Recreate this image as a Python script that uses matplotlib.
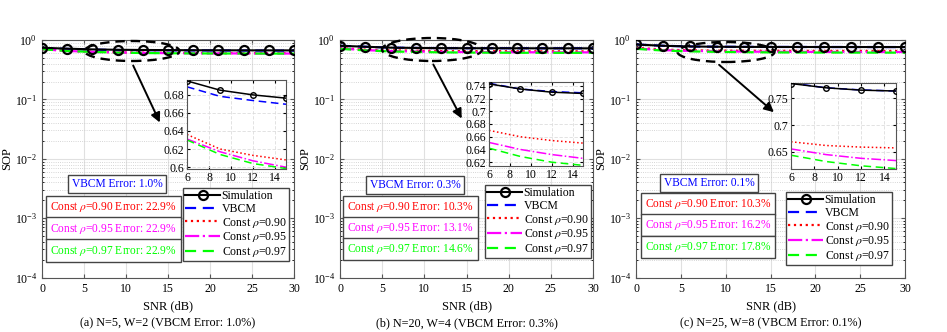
import matplotlib
matplotlib.use("Agg")
import matplotlib.pyplot as plt
from matplotlib.patches import Ellipse, FancyArrowPatch
from matplotlib.ticker import NullFormatter, LogLocator, FuncFormatter

plt.rcParams['font.family'] = ['Liberation Serif', 'DejaVu Serif']
plt.rcParams['mathtext.fontset'] = 'stix'

W, H = 947, 332

snr = [0, 3, 6, 9, 12, 15, 18, 21, 24, 27, 30]

# panel (a) N=5, W=2
sim_a = [0.74, 0.715, 0.695, 0.6848, 0.6796, 0.676, 0.673, 0.671, 0.670, 0.669, 0.668]
vbcm_a = [0.735, 0.708, 0.6885, 0.678, 0.6734, 0.6693, 0.667, 0.665, 0.664, 0.663, 0.662]
c90_a = [0.70, 0.66, 0.636, 0.620, 0.613, 0.608, 0.605, 0.603, 0.602, 0.601, 0.600]
c95_a = [0.70, 0.655, 0.631, 0.617, 0.607, 0.600, 0.597, 0.595, 0.594, 0.593, 0.592]
c97_a = [0.70, 0.653, 0.630, 0.614, 0.604, 0.5985, 0.595, 0.593, 0.592, 0.591, 0.590]

# panel (b) N=20, W=4
sim_b = [0.80, 0.77, 0.743, 0.735, 0.730, 0.728, 0.727, 0.726, 0.725, 0.725, 0.724]
vbcm_b = [0.80, 0.77, 0.744, 0.735, 0.731, 0.729, 0.728, 0.727, 0.726, 0.726, 0.725]
c90_b = [0.73, 0.69, 0.670, 0.660, 0.654, 0.650, 0.648, 0.647, 0.646, 0.645, 0.645]
c95_b = [0.72, 0.675, 0.651, 0.640, 0.632, 0.626, 0.624, 0.622, 0.621, 0.620, 0.620]
c97_b = [0.71, 0.668, 0.642, 0.629, 0.620, 0.615, 0.612, 0.610, 0.609, 0.608, 0.608]

# panel (c) N=25, W=8
sim_c = [0.84, 0.80, 0.778, 0.770, 0.7656, 0.764, 0.763, 0.762, 0.762, 0.761, 0.761]
vbcm_c = [0.84, 0.80, 0.779, 0.770, 0.766, 0.764, 0.763, 0.762, 0.762, 0.761, 0.761]
c90_c = [0.74, 0.69, 0.669, 0.662, 0.659, 0.6575, 0.656, 0.655, 0.655, 0.654, 0.654]
c95_c = [0.72, 0.675, 0.6556, 0.645, 0.638, 0.6338, 0.631, 0.630, 0.629, 0.628, 0.628]
c97_c = [0.71, 0.665, 0.6438, 0.632, 0.624, 0.6188, 0.616, 0.615, 0.614, 0.613, 0.613]

series_names = ['Simulation', 'VBCM', r'Const $\rho$=0.90', r'Const $\rho$=0.95', r'Const $\rho$=0.97']
colors = ['black', '#0000ff', '#ff0000', '#ff00ff', '#00ff00']
styles = ['-', (0, (5, 3)), ':', '-.', (0, (5, 3))]

captions = ['(a) N=5, W=2 (VBCM Error: 1.0%)',
            '(b) N=20, W=4 (VBCM Error: 0.3%)',
            '(c) N=25, W=8 (VBCM Error: 0.1%)']
vbcm_err = ['1.0%', '0.3%', '0.1%']
const_err = [['22.9%', '22.9%', '22.9%'],
             ['10.3%', '13.1%', '14.6%'],
             ['10.3%', '16.2%', '17.8%']]
inset_ylim = [(0.598, 0.696), (0.614, 0.746), (0.618, 0.779)]
inset_yticks = [[0.6, 0.62, 0.64, 0.66, 0.68],
                [0.62, 0.64, 0.66, 0.68, 0.7, 0.72, 0.74],
                [0.65, 0.7, 0.75]]

data = [[sim_a, vbcm_a, c90_a, c95_a, c97_a],
        [sim_b, vbcm_b, c90_b, c95_b, c97_b],
        [sim_c, vbcm_c, c90_c, c95_c, c97_c]]


def fx(px):
    return px / W


def fy(py):
    return 1 - py / H


# layout in pixels
ax_x = [(42, 294), (340, 593), (636, 905)]
ax_top, ax_bot = 40, 277.7
inset_px = [(187, 286, 80, 169), (489, 583, 82, 166), (791, 896, 83, 169)]
legend_px = [(289, 188), (591, 185), (892, 192)]
vbcm_box_px = [(117, 184), (415, 185), (709, 183)]
const_box_px = [(113.5, [207.5, 228.5, 250.5]), (410.5, [207.5, 228, 249]), (708, [204, 225, 247])]
ell_px = [(132, 51, 95, 20), (432, 49.5, 100, 23), (726, 52, 97, 20)]
arrow_px = [((132, 63), (161, 125)), ((432, 62), (463, 121)), ((717, 63), (776, 114))]

fig = plt.figure(figsize=(W / 100, H / 100), dpi=100)

for i in range(3):
    l, r = ax_x[i]
    ax = fig.add_axes([fx(l), fy(ax_bot), (r - l) / W, (ax_bot - ax_top) / H])
    lines = []
    for k in range(5):
        if k == 0:
            ln, = ax.plot(snr, data[i][k], color=colors[k], linestyle=styles[k], lw=1.5,
                          marker='o', ms=6.5, mfc='none', mew=1.6, zorder=5)
        else:
            ln, = ax.plot(snr, data[i][k], color=colors[k], linestyle=styles[k], lw=1.6)
        lines.append(ln)
    ax.set_yscale('log')
    ax.set_ylim(1e-4, 1)
    ax.set_xlim(0, 30)
    ax.set_xticks([0, 5, 10, 15, 20, 25, 30])
    ax.yaxis.set_major_locator(LogLocator(base=10, numticks=10))
    ax.yaxis.set_minor_locator(LogLocator(base=10, subs=range(2, 10), numticks=100))
    ax.yaxis.set_minor_formatter(NullFormatter())
    ax.grid(True, which='major', color='#e0e0e0', lw=0.8)
    ax.grid(True, which='minor', axis='y', color='#c8c8c8', lw=0.6, linestyle=':')
    ax.tick_params(labelsize=8.5, direction='in', length=3, color='#555555', top=True, right=True)
    ax.tick_params(which='minor', direction='in', length=1.5, top=True, right=True)
    for s in ax.spines.values():
        s.set_color('#555555')
    ax.set_xlabel('SNR (dB)', fontsize=9, labelpad=4)
    ax.set_ylabel('SOP', fontsize=9, labelpad=1)

    # dashed ellipse and arrow pointing to the inset
    cx, cy, ew, eh = ell_px[i]
    ell = Ellipse((fx(cx), fy(cy)), ew / W, eh / H, transform=fig.transFigure,
                  fill=False, ls=(0, (4, 2.5)), lw=1.7, ec='black', zorder=10)
    fig.patches.append(ell)
    (x0, y0), (x1, y1) = arrow_px[i]
    fig.add_artist(FancyArrowPatch(
        (fx(x0), fy(y0)), (fx(x1), fy(y1)), transform=fig.transFigure,
        arrowstyle='-|>', mutation_scale=14, lw=1.4, color='black'))

    # legend
    lx, ly = legend_px[i]
    leg = ax.legend(lines, series_names, loc='upper right', bbox_to_anchor=(fx(lx), fy(ly)),
                    bbox_transform=fig.transFigure, fontsize=8.5, handlelength=3.0,
                    handletextpad=0.1, labelspacing=0.05, borderpad=0.2,
                    fancybox=False, edgecolor='#444444', framealpha=1, borderaxespad=0)
    leg.get_frame().set_linewidth(1.0)

    # error boxes
    bx, by = vbcm_box_px[i]
    fig.text(fx(bx), fy(by), 'VBCM Error: ' + vbcm_err[i], color=colors[1], fontsize=8.3,
             ha='center', va='center',
             bbox=dict(boxstyle='square,pad=0.3', fc='white', ec='#444444', lw=1.0))
    cbx, cbys = const_box_px[i]
    for j, rho in enumerate(['0.90', '0.95', '0.97']):
        fig.text(fx(cbx), fy(cbys[j]), r'Const $\rho$=' + rho + ' Error: ' + const_err[i][j],
                 color=colors[2 + j], fontsize=8.3, ha='center', va='center',
                 bbox=dict(boxstyle='square,pad=0.35', fc='white', ec='#444444', lw=1.0))

    fig.text((fx(l) + fx(r)) / 2, fy(323), captions[i], fontsize=8.7, ha='center', va='center')

    # inset
    il, ir, it, ib = inset_px[i]
    ins = fig.add_axes([fx(il), fy(ib), (ir - il) / W, (ib - it) / H])
    for k in range(5):
        if k == 0:
            ins.plot(snr[2:6], data[i][k][2:6], color='black', lw=1.1, marker='o', ms=4,
                     mfc='none', mew=1.0, zorder=5)
        else:
            ins.plot(snr[2:6], data[i][k][2:6], color=colors[k], linestyle=styles[k], lw=1.1)
    ins.set_xlim(6, 15)
    ins.set_ylim(*inset_ylim[i])
    ins.set_xticks([6, 8, 10, 12, 14])
    ins.set_yticks(inset_yticks[i])
    ins.yaxis.set_major_formatter(FuncFormatter(lambda v, p: '%g' % v))
    ins.grid(True, color='#dddddd', lw=0.6, linestyle=(0, (4, 2)))
    ins.tick_params(labelsize=8.5, direction='in', length=2.5, pad=2, top=True, right=True)
    for s in ins.spines.values():
        s.set_color('#555555')

fig.savefig('out.png', dpi=100)
